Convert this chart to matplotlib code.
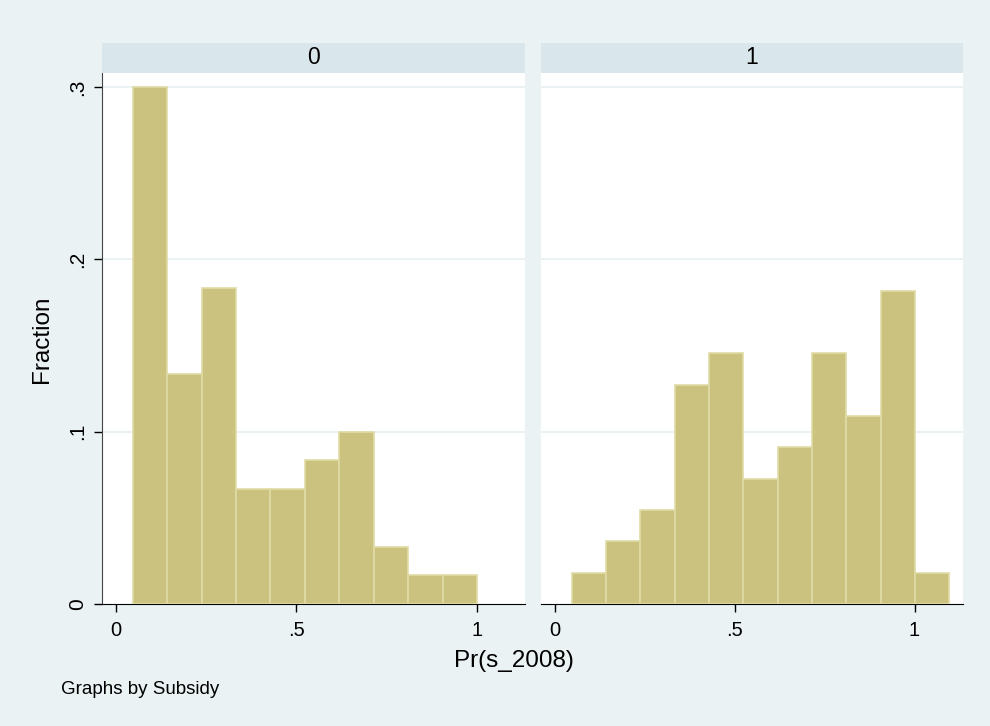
import matplotlib
matplotlib.use("Agg")
import matplotlib.pyplot as plt
import numpy as np

plt.rcParams['font.family'] = ['Liberation Sans', 'DejaVu Sans']

# histogram of Pr(s_2008) by Subsidy (fractions)
bin_start = 0.046
bin_width = 0.0955
frac_0 = [0.300, 0.1333, 0.1833, 0.0667, 0.0667, 0.0833, 0.100, 0.0333, 0.0167, 0.0167]
frac_1 = [0.0182, 0.0364, 0.0545, 0.1273, 0.1455, 0.0727, 0.0909, 0.1455, 0.1091, 0.1818, 0.0182]
panel_labels = ["0", "1"]
xticks = [0, 0.5, 1]
xtick_labels = ["0", ".5", "1"]
yticks = [0, 0.1, 0.2, 0.3]
ytick_labels = ["0", ".1", ".2", ".3"]

bg = '#EAF2F3'
strip_col = '#D9E6EB'
bar_col = '#CAC27E'
edge_col = '#E0DBA6'

fig = plt.figure(figsize=(9.9, 7.26), dpi=100)
fig.patch.set_facecolor(bg)

W, H = 990.0, 726.0
bottom = 1 - 604 / H
top = 1 - 73.3 / H
strip_top = 1 - 42.7 / H
panels = [(102 / W, 525 / W), (541 / W, 962.7 / W)]

for k, (fr, (l, r)) in enumerate(zip([frac_0, frac_1], panels)):
    ax = fig.add_axes([l, bottom, r - l, top - bottom])
    ax.set_facecolor('white')
    edges = bin_start + bin_width * np.arange(len(fr))
    ax.bar(edges, fr, width=bin_width, align='edge', color=bar_col,
           edgecolor=edge_col, linewidth=1.2, zorder=3)
    ax.set_xlim(-0.039, 1.134)
    ax.set_ylim(0, 0.308)
    ax.set_yticks(yticks)
    for y in yticks[1:]:
        ax.axhline(y, color=bg, linewidth=1.5, zorder=1)
    ax.set_xticks(xticks)
    ax.set_xticklabels(xtick_labels, fontsize=14.5)
    ax.tick_params(axis='x', direction='out', length=6, width=1, pad=6)
    for s in ['top', 'right']:
        ax.spines[s].set_visible(False)
    ax.spines['bottom'].set_color('black')
    if k == 0:
        ax.set_yticklabels(ytick_labels, fontsize=15, rotation=90, va='center')
        ax.tick_params(axis='y', direction='out', length=6, width=1, pad=5)
        ax.spines['left'].set_color('#444444')
    else:
        ax.spines['left'].set_visible(False)
        ax.tick_params(axis='y', left=False, labelleft=False)

    sax = fig.add_axes([l, top, r - l, strip_top - top])
    sax.set_facecolor(strip_col)
    sax.set_xticks([])
    sax.set_yticks([])
    for s in sax.spines.values():
        s.set_visible(False)
    sax.text(0.5, 0.5, panel_labels[k], ha='center', va='center', fontsize=16.5,
             transform=sax.transAxes)

fig.text(42 / W, 1 - 339 / H, "Fraction", rotation=90, ha='center', va='center', fontsize=17.5)
fig.text(514 / W, 1 - 661 / H, "Pr(s_2008)", ha='center', va='center', fontsize=17.5)
fig.text(61 / W, 1 - 690 / H, "Graphs by Subsidy", ha='left', va='center', fontsize=13.5)

fig.savefig("out.png", dpi=100, facecolor=bg)
